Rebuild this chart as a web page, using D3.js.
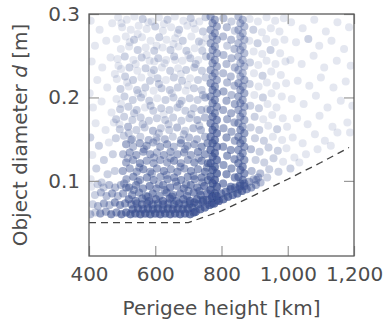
<!DOCTYPE html>
<html>
<head>
<meta charset="utf-8">
<script src="https://cdn.jsdelivr.net/npm/d3@7/dist/d3.min.js"></script>
<style>
  body { margin: 0; background: #fff; }
  text { font-family: "DejaVu Sans", sans-serif; }
</style>
</head>
<body>
<svg id="chart" width="387" height="320"></svg>
<script>
// each entry: [perigee height km, object diameter m, number of objects at that spot]
var upperLeft = [
    [405,.292,1],[432,.281,1],[418,.262,1],[452,.268,1],[470,.289,1],[408,.243,1],[440,.236,1],[465,.248,1],
    [425,.221,1],[455,.212,1],[402,.205,1],[478,.228,1],[412,.188,1],[438,.195,1],[468,.182,1],[420,.169,1],
    [450,.161,1],[404,.152,2],[475,.170,1],[430,.142,2],[460,.146,1],[410,.131,1],[445,.125,2],[472,.132,2],
    [422,.115,2],[456,.108,2],[405,.102,1],[478,.112,2],[438,.098,2]
];
var lowerLeft = [
    [404,.060,3],[419,.062,2],[434,.061,5],[451,.063,4],[467,.060,6],[483,.062,5],[498,.060,7],[512,.062,7],
    [411,.072,2],[427,.070,3],[445,.073,4],[462,.071,3],[478,.074,5],[494,.071,5],[509,.073,5],
    [418,.083,2],[436,.086,3],[453,.082,3],[470,.085,4],[487,.082,3],[503,.085,4],
    [407,.093,1],[426,.096,2],[444,.092,2],[461,.095,3],[479,.092,3],[496,.095,3],[512,.092,4]
];
var floorBand = [
    [525,.060,8],[540,.061,8],[555,.060,9],[570,.061,9],[585,.060,9],[600,.061,9],[615,.060,9],[630,.061,9],
    [645,.060,9],[660,.061,9],[675,.060,9],[690,.061,9],[705,.060,9],[716,.062,9],
    [532,.066,7],[548,.067,7],[563,.066,7],[578,.067,8],[593,.066,8],[608,.067,8],[623,.066,8],[638,.067,8],
    [653,.066,8],[668,.067,8],[683,.066,8],[698,.067,8],[712,.068,8],
    [528,.072,5],[544,.073,5],[560,.072,6],[576,.073,6],[592,.072,6],[608,.073,6],[624,.072,6],[640,.073,6],
    [656,.072,6],[672,.073,6],[688,.072,7],[704,.073,7],[718,.074,7]
];
var cloudLow = [
    [512,.144,4],[533,.141,3],[553,.145,4],[574,.142,4],[594,.146,3],[615,.141,4],[636,.144,4],[656,.141,3],[677,.145,4],[697,.142,4],[718,.144,4],[740,.141,5],[758,.145,5],
    [503,.132,3],[523,.134,4],[543,.131,4],[564,.135,4],[585,.132,4],[605,.134,3],[626,.131,4],[646,.135,4],[667,.132,4],[687,.134,4],[708,.131,4],[729,.135,5],[750,.132,5],
    [512,.122,4],[533,.125,4],[554,.121,5],[574,.124,4],[595,.121,4],[615,.125,4],[636,.122,4],[657,.124,5],[677,.121,4],[698,.125,4],[718,.122,5],[740,.124,5],[759,.121,6],
    [502,.112,4],[523,.115,4],[544,.111,4],[564,.114,5],[585,.111,4],[605,.115,4],[626,.112,5],[647,.114,4],[667,.111,5],[688,.115,4],[708,.112,5],[729,.114,5],[750,.111,6],
    [513,.102,4],[534,.105,5],[554,.101,4],[575,.104,5],[595,.101,5],[616,.105,4],[637,.102,5],[657,.104,5],[678,.101,5],[698,.105,5],[719,.102,5],[740,.104,6],[759,.101,6],
    [521,.092,5],[542,.095,5],[563,.091,5],[583,.094,6],[604,.091,5],[624,.095,5],[645,.092,6],[666,.094,5],[686,.091,6],[707,.095,6],[727,.092,6],[748,.094,7],
    [530,.083,5],[551,.086,5],[572,.082,5],[592,.085,6],[613,.082,5],[634,.086,6],[654,.083,5],[675,.085,6],[696,.082,6],[716,.086,6],[737,.083,7],[757,.085,7],
    [520,.078,6],[541,.076,6],[561,.079,6],[582,.076,7],[602,.078,6],[623,.076,7],[644,.079,7],[664,.076,7],[685,.078,7],[705,.076,8],[726,.078,8],[745,.077,8]
];
var cloudLowExtra = [
    [526,.149,2],[566,.138,3],[604,.148,2],[646,.127,3],[690,.138,3],[731,.127,3],[517,.127,2],
    [552,.116,3],[596,.128,3],[634,.107,3],[676,.117,3],[716,.106,4],[756,.116,4],[506,.097,3],
    [548,.099,3],[590,.109,3],[628,.089,4],[662,.099,4],[700,.088,4],[742,.098,4],[535,.089,4],
    [578,.081,4],[611,.096,3],[651,.081,5],[693,.096,4],[734,.088,5]
];
var cloudHigh = [
    [488,.296,1],[514,.293,1],[537,.297,1],[562,.294,2],[589,.291,1],[611,.296,1],[637,.293,2],[659,.297,1],[685,.292,1],[707,.295,2],[733,.291,1],[752,.296,2],
    [500,.284,1],[526,.281,1],[550,.286,1],[574,.282,1],[600,.285,2],[623,.280,1],[648,.284,1],[672,.281,2],[697,.286,1],[720,.282,1],[744,.279,2],
    [483,.270,1],[511,.273,1],[536,.269,2],[560,.272,1],[586,.268,1],[612,.272,2],[634,.269,1],[660,.271,1],[683,.268,2],[709,.273,1],[732,.267,2],[754,.271,1],
    [496,.258,1],[521,.261,1],[547,.257,2],[571,.260,1],[597,.256,2],[622,.260,1],[646,.257,2],[670,.261,1],[694,.256,2],[719,.259,1],[742,.256,2],
    [486,.246,1],[508,.249,2],[534,.245,1],[559,.248,2],[583,.244,1],[609,.247,2],[633,.245,1],[657,.249,2],[682,.244,1],[706,.247,2],[730,.245,1],[753,.249,2],
    [497,.234,1],[522,.236,2],[546,.232,1],[571,.235,2],[596,.233,2],[620,.236,1],[645,.232,2],[669,.235,1],[693,.233,2],[718,.236,2],[741,.232,2],
    [484,.222,1],[509,.225,2],[533,.221,2],[558,.224,1],[584,.220,2],[607,.223,2],[632,.221,1],[656,.224,2],[681,.220,2],[705,.223,1],[729,.221,2],[752,.224,2],
    [495,.210,2],[520,.213,1],[545,.209,2],[570,.212,2],[595,.208,1],[619,.211,2],[644,.209,2],[668,.212,2],[692,.208,1],[717,.211,2],[740,.209,2],
    [483,.198,1],[507,.201,2],[532,.197,2],[557,.200,2],[582,.196,2],[606,.199,1],[631,.197,2],[655,.200,2],[680,.196,2],[704,.199,2],[728,.197,2],[751,.200,3],
    [494,.186,2],[519,.189,2],[544,.185,2],[569,.188,1],[594,.184,2],[618,.187,2],[643,.185,2],[667,.188,2],[691,.184,2],[716,.187,2],[739,.185,3],
    [482,.174,2],[506,.177,2],[531,.173,2],[556,.176,2],[581,.172,2],[605,.175,2],[630,.173,2],[654,.176,2],[679,.172,2],[703,.175,2],[727,.173,3],[750,.176,3],
    [493,.162,2],[518,.165,3],[543,.161,2],[568,.164,2],[593,.160,3],[617,.163,2],[642,.161,2],[666,.164,3],[690,.160,2],[715,.163,3],[738,.161,3],
    [481,.151,2],[505,.154,2],[530,.150,3],[555,.153,2],[580,.149,3],[604,.152,2],[629,.150,3],[653,.153,2],[678,.149,3],[702,.152,3],[726,.150,3],[750,.153,3]
];
var cloudHighExtra = [
    [498,.289,1],[547,.276,1],[579,.290,1],[626,.288,1],[668,.277,1],[715,.289,1],[741,.265,1],
    [523,.266,1],[574,.251,1],[604,.262,1],[655,.264,1],[700,.251,1],[489,.238,1],[541,.240,1],
    [588,.229,1],[628,.241,1],[677,.228,1],[722,.240,2],[515,.218,1],[563,.204,1],[611,.216,2],
    [650,.205,1],[698,.215,1],[744,.203,2],[497,.192,1],[536,.181,2],[586,.190,2],[625,.180,1],
    [674,.192,2],[709,.180,2],[757,.186,2],[520,.157,2],[562,.168,2],[611,.157,2],[640,.168,2],
    [686,.156,2],[733,.166,2],[492,.168,1],[548,.205,1],[660,.245,1],[597,.243,1]
];
var stripeA = [
    [767,.297,4],[780,.293,4],[773,.289,4],[786,.285,4],[767,.281,4],[780,.277,4],[773,.273,4],[786,.269,4],
    [767,.265,4],[780,.261,4],[773,.257,4],[786,.253,4],[767,.249,4],[780,.245,4],[773,.241,4],[786,.237,4],
    [767,.233,4],[780,.229,4],[773,.225,4],[786,.221,4],[767,.217,5],[780,.213,5],[773,.209,5],[786,.205,5],
    [767,.201,5],[780,.197,5],[773,.193,5],[786,.189,5],[767,.185,5],[780,.181,5],[773,.177,6],[786,.173,6],
    [767,.169,6],[780,.165,6],[773,.161,7],[786,.157,7],[767,.153,7],[780,.149,7],[773,.145,7],[786,.141,7],
    [767,.137,8],[780,.133,8],[773,.129,8],[786,.125,8],[767,.121,8],[780,.117,8],[773,.113,9],[786,.109,9],
    [767,.105,9],[780,.101,9],[773,.097,10],[786,.093,10],[767,.089,10],[780,.085,10],[773,.081,10],[786,.077,10],
    [771,.073,10]
];
var stripeB = [
    [851,.297,3],[864,.293,3],[857,.289,3],[869,.285,3],[851,.281,3],[864,.277,3],[857,.273,3],[869,.269,3],
    [851,.265,3],[864,.261,3],[857,.257,3],[869,.253,3],[851,.249,3],[864,.245,3],[857,.241,3],[869,.237,3],
    [851,.233,3],[864,.229,3],[857,.225,3],[869,.221,4],[851,.217,4],[864,.213,4],[857,.209,4],[869,.205,4],
    [851,.201,4],[864,.197,4],[857,.193,4],[869,.189,4],[851,.185,4],[864,.181,4],[857,.177,4],[869,.173,4],
    [851,.169,4],[864,.165,4],[857,.161,5],[869,.157,5],[851,.153,5],[864,.149,5],[857,.145,5],[869,.141,5],
    [851,.137,5],[864,.133,5],[857,.129,5],[869,.125,5],[851,.121,6],[864,.117,6],[857,.113,6],[869,.109,6],
    [851,.105,6],[864,.101,6],[857,.097,6],[869,.094,6],[851,.090,6]
];
var midGap = [
    [806,.295,3],[830,.291,2],[816,.284,3],[840,.280,2],[805,.273,3],[829,.269,3],[817,.262,2],[839,.258,3],
    [806,.251,3],[830,.247,3],[815,.240,3],[840,.236,3],[805,.229,3],[828,.225,3],[817,.218,3],[839,.214,3],
    [806,.207,4],[830,.203,3],[815,.196,4],[840,.192,4],[805,.185,4],[829,.181,4],[817,.174,4],[839,.170,4],
    [806,.163,4],[830,.159,4],[815,.152,5],[840,.148,4],[805,.141,5],[828,.137,5],[817,.130,5],[839,.126,5],
    [806,.119,5],[830,.115,5],[815,.108,6],[840,.104,6],[805,.097,6],[828,.093,6]
];
var curveBand = [
    [722,.063,9],[736,.066,9],[750,.068,9],[764,.071,10],[778,.073,10],[792,.076,10],[806,.078,9],[820,.081,9],
    [834,.083,8],[848,.085,8],[862,.088,8],[876,.090,6],[890,.092,5],[904,.095,4],[918,.098,3],
    [729,.072,7],[743,.075,7],[757,.077,8],[771,.080,8],[785,.082,8],[799,.085,7],[813,.087,7],[827,.090,7],
    [841,.092,6],[855,.094,6],[869,.097,5],[883,.099,4],[897,.102,3],[911,.104,3]
];
var rightNear = [
    [885,.294,1],[910,.291,1],[936,.296,1],[962,.292,1],[988,.295,1],
    [896,.281,2],[922,.278,1],[949,.283,1],[975,.279,1],
    [884,.268,1],[909,.265,2],[935,.270,1],[961,.266,1],[990,.269,1],
    [897,.255,1],[923,.252,1],[948,.257,2],[977,.253,1],
    [886,.242,2],[911,.239,1],[936,.244,1],[963,.240,1],[993,.243,1],
    [898,.229,1],[924,.226,2],[950,.231,1],[979,.227,1],
    [885,.216,2],[912,.213,1],[937,.218,1],[965,.214,1],[995,.217,1],
    [899,.203,1],[925,.200,2],[951,.205,1],[982,.201,1],
    [887,.190,2],[913,.187,2],[939,.192,1],[966,.188,1],
    [900,.177,2],[926,.174,1],[953,.179,1],[985,.175,1],
    [888,.164,2],[914,.161,2],[941,.166,1],[968,.162,2],[998,.165,1],
    [901,.151,2],[928,.148,2],[955,.153,1],[983,.149,1],
    [889,.138,3],[915,.135,2],[942,.140,2],[970,.136,2],[996,.139,1],
    [903,.125,2],[929,.122,2],[957,.127,2],[986,.123,1],
    [891,.112,3],[917,.109,3],[944,.114,2],[972,.111,2],
    [905,.101,3],[938,.104,2]
];
var rightFar = [
    [1010,.290,1],[1045,.283,1],[1080,.293,1],[1115,.279,1],[1150,.290,1],[1185,.284,1],
    [1025,.266,1],[1062,.270,2],[1095,.262,1],[1132,.268,1],[1170,.258,1],
    [1008,.245,1],[1042,.240,1],[1078,.250,1],[1110,.236,1],[1148,.244,1],[1190,.238,1],
    [1030,.220,1],[1065,.214,1],[1100,.224,1],[1138,.212,1],[1175,.219,1],
    [1012,.198,1],[1048,.192,1],[1085,.202,1],[1120,.188,1],[1160,.196,1],[1195,.190,1],
    [1028,.175,1],[1060,.168,1],[1096,.178,1],[1135,.165,1],[1180,.170,1],
    [1015,.152,1],[1045,.145,1],[1082,.156,1],[1112,.148,1],[1150,.158,1],[1188,.158,1],
    [1020,.128,1],[1055,.132,1],[1090,.138,1],[1130,.142,1],[1008,.115,2],[1035,.122,1]
];

// dashed detection limit
var limitHeight = [400, 700, 800, 900, 1000, 1100, 1185];
var limitDiameter = [0.05, 0.05, 0.064, 0.083, 0.102, 0.122, 0.14];

var xTicks = [400, 600, 800, 1000, 1200];
var yTicks = [0.1, 0.2, 0.3];

var margin = { top: 14, right: 33, bottom: 64, left: 89 };
var width = 387, height = 320;
var svg = d3.select("#chart");

var xScale = d3.scaleLinear().domain([400, 1200]).range([margin.left, width - margin.right]);
var yScale = d3.scaleLinear().domain([0.01, 0.3]).range([height - margin.bottom, margin.top]);

svg.append("defs").append("clipPath").attr("id", "plotClip")
    .append("rect")
    .attr("x", margin.left).attr("y", margin.top)
    .attr("width", xScale(1200) - margin.left)
    .attr("height", yScale(0.01) - margin.top);

var allPoints = [].concat(upperLeft, lowerLeft, floorBand, cloudLow, cloudLowExtra, cloudHigh, cloudHighExtra,
    stripeA, stripeB, midGap, curveBand, rightNear, rightFar);
// one circle per object, so stacked objects get darker
var objects = [];
allPoints.forEach(function (p) { for (var i = 0; i < p[2]; i++) objects.push(p); });

svg.append("g").attr("clip-path", "url(#plotClip)")
    .selectAll("circle").data(objects).join("circle")
    .attr("cx", function (d) { return xScale(d[0]); })
    .attr("cy", function (d) { return yScale(d[1]); })
    .attr("r", 4)
    .attr("fill", "#3d5296")
    .attr("fill-opacity", 0.14);

var line = d3.line()
    .x(function (d, i) { return xScale(limitHeight[i]); })
    .y(function (d) { return yScale(d); });

svg.append("path")
    .attr("d", line(limitDiameter))
    .attr("fill", "none")
    .attr("stroke", "#444")
    .attr("stroke-width", 1.3)
    .attr("stroke-dasharray", "7,5");

function styleAxis(g)
{
    g.select(".domain").remove();
    g.selectAll(".tick line").attr("stroke", "#9a9a9a").attr("stroke-width", 1.2);
    g.selectAll(".tick text").attr("fill", "#4d4d4d").style("font-size", "20px");
}

svg.append("g")
    .attr("transform", "translate(0," + yScale(0.01) + ")")
    .call(d3.axisBottom(xScale).tickValues(xTicks).tickSize(-10).tickPadding(11).tickFormat(d3.format(",")))
    .call(styleAxis);
svg.append("g")
    .attr("transform", "translate(0," + margin.top + ")")
    .call(d3.axisTop(xScale).tickValues(xTicks).tickSize(-10).tickFormat(""))
    .call(styleAxis);
svg.append("g")
    .attr("transform", "translate(" + margin.left + ",0)")
    .call(d3.axisLeft(yScale).tickValues(yTicks).tickSize(-10).tickPadding(9).tickFormat(d3.format(".1f")))
    .call(styleAxis);
svg.append("g")
    .attr("transform", "translate(" + xScale(1200) + ",0)")
    .call(d3.axisRight(yScale).tickValues(yTicks).tickSize(-10).tickFormat(""))
    .call(styleAxis);

svg.append("rect")
    .attr("x", margin.left).attr("y", margin.top)
    .attr("width", xScale(1200) - margin.left)
    .attr("height", yScale(0.01) - margin.top)
    .attr("fill", "none")
    .attr("stroke", "#555")
    .attr("stroke-width", 1.25);

svg.append("text")
    .attr("x", (margin.left + xScale(1200)) / 2)
    .attr("y", 315)
    .attr("text-anchor", "middle")
    .attr("fill", "#4d4d4d")
    .style("font-size", "20px")
    .text("Perigee height [km]");

var yTitle = svg.append("text")
    .attr("transform", "translate(27," + (margin.top + yScale(0.01)) / 2 + ") rotate(-90)")
    .attr("text-anchor", "middle")
    .attr("fill", "#4d4d4d")
    .style("font-size", "20px");
yTitle.append("tspan").text("Object diameter ");
yTitle.append("tspan").style("font-style", "italic").text("d");
yTitle.append("tspan").text(" [m]");
</script>
</body>
</html>
